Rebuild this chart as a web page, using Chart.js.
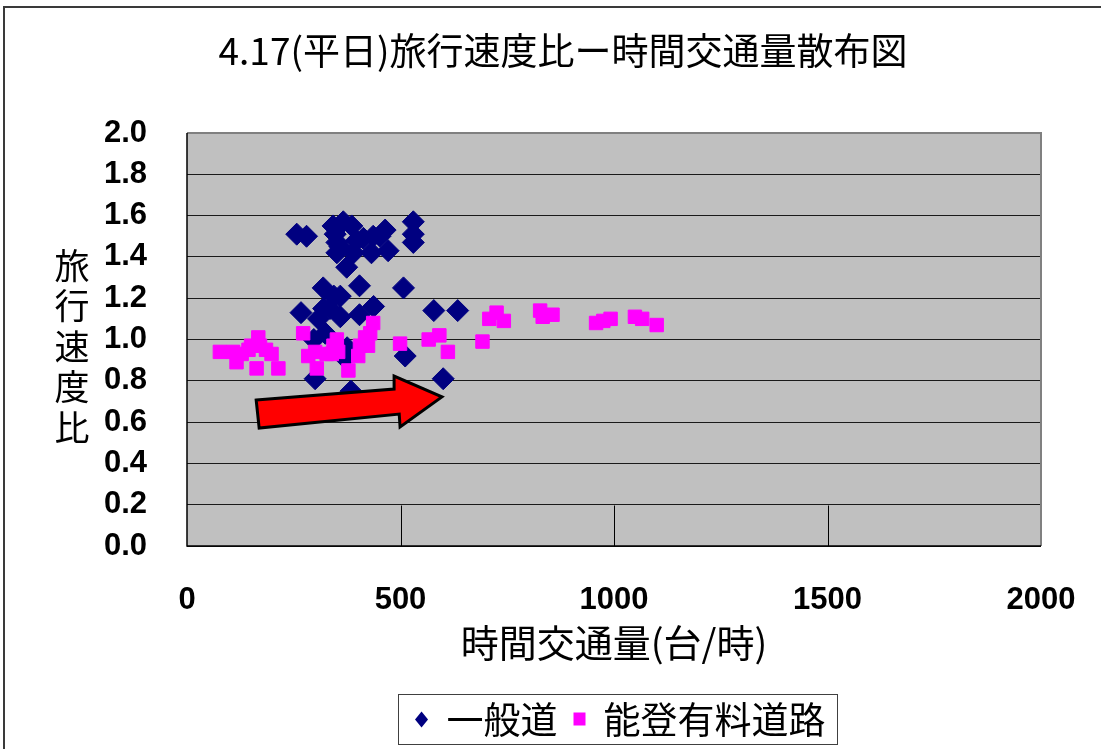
<!DOCTYPE html>
<html>
<head>
<meta charset="utf-8">
<title>旅行速度比－時間交通量散布図</title>
<script src="https://cdn.jsdelivr.net/npm/chart.js@4.4.1/dist/chart.umd.min.js"></script>
<style>
  html, body { margin: 0; padding: 0; background: #ffffff; }
  #wrap { position: relative; width: 1101px; height: 749px; }
  canvas { display: block; }
</style>
</head>
<body>
<div id="wrap"><canvas id="chart" width="1101" height="749"></canvas></div>
<script>
// ---- texts ----
const chartTitle = '4.17(平日)旅行速度比ー時間交通量散布図';
const xAxisTitle = '時間交通量(台/時)';
const yAxisTitle = '旅行速度比';
const seriesNames = ['一般道', '能登有料道路'];

// ---- tick labels ----
const xTicks = [0, 500, 1000, 1500, 2000];
const yTicks = [0.0, 0.2, 0.4, 0.6, 0.8, 1.0, 1.2, 1.4, 1.6, 1.8, 2.0];

// ---- 一般道: hourly volume (台/時) and travel speed ratio ----
const generalVolume = [
  257, 280, 342, 366, 386, 347, 351, 351, 358, 390, 374, 397, 413, 436, 452,
  464, 432, 471, 530, 530, 530, 319, 404, 507, 344, 359, 320, 335, 437, 267,
  308, 359, 404, 578, 634, 324, 297, 375, 370, 511, 300, 384, 600
];
const generalSpeedRatio = [
  1.51, 1.50, 1.55, 1.57, 1.55, 1.51, 1.47, 1.42, 1.45, 1.42, 1.35, 1.48, 1.49, 1.50, 1.50,
  1.53, 1.42, 1.43, 1.57, 1.51, 1.47, 1.25, 1.26, 1.25, 1.21, 1.21, 1.15, 1.15, 1.16, 1.13,
  1.10, 1.11, 1.12, 1.14, 1.14, 1.03, 1.00, 0.96, 0.91, 0.92, 0.81, 0.75, 0.81
];

// ---- 能登有料道路: hourly volume (台/時) and travel speed ratio ----
const tollVolume = [
  77, 108, 116, 128, 144, 150, 167, 171, 185, 198, 163, 214, 272, 284, 300,
  304, 327, 339, 343, 351, 354, 378, 401, 405, 417, 424, 429, 436, 499, 566,
  591, 611, 692, 708, 725, 742, 827, 833, 856, 958, 975, 992, 1049, 1066, 1100
];
const tollSpeedRatio = [
  0.94, 0.94, 0.89, 0.93, 0.95, 0.97, 1.01, 0.97, 0.95, 0.93, 0.86, 0.86, 1.03, 0.92, 0.94,
  0.86, 0.93, 0.93, 0.97, 1.00, 0.94, 0.85, 0.92, 0.97, 1.01, 0.97, 1.03, 1.08, 0.98, 1.00,
  1.02, 0.94, 0.99, 1.10, 1.13, 1.09, 1.14, 1.11, 1.12, 1.08, 1.09, 1.10, 1.11, 1.10, 1.07
];

const toPoints = (xs, ys) => xs.map((x, i) => ({ x: x, y: ys[i] }));

const NUM_FONT = '"Liberation Sans", Arial, sans-serif';
const JP_FONT = '"Noto Sans CJK JP", "Noto Sans CJK SC", sans-serif';
const NAVY = '#000080';
const MAGENTA = '#FF00FF';

// Block arrow annotation, in data units (volume, speed ratio)
const arrowShape = [
  [162, 0.707], [485, 0.760], [485, 0.823], [597, 0.722],
  [499, 0.576], [497, 0.639], [169, 0.571]
];

const decorations = {
  id: 'decorations',
  beforeDraw(chart) {
    const { ctx, chartArea: a } = chart;
    ctx.save();
    ctx.fillStyle = '#ffffff';
    ctx.fillRect(0, 0, chart.width, chart.height);
    // outer frame (top and left edges)
    ctx.strokeStyle = '#3a3a3a';
    ctx.lineWidth = 2;
    ctx.beginPath();
    ctx.moveTo(4, chart.height);
    ctx.lineTo(4, 7);
    ctx.lineTo(chart.width, 7);
    ctx.stroke();
    // plot area fill
    ctx.fillStyle = '#C0C0C0';
    ctx.fillRect(a.left, a.top, a.right - a.left, a.bottom - a.top);
    // chart title
    ctx.fillStyle = '#000000';
    ctx.font = '37px ' + JP_FONT;
    ctx.textAlign = 'center';
    ctx.textBaseline = 'middle';
    ctx.fillText(chartTitle, (a.left + a.right) / 2 - 51, 51);
    ctx.restore();
  },
  beforeDatasetsDraw(chart) {
    const { ctx, chartArea: a, scales: { x, y } } = chart;
    ctx.save();
    // x-axis tick marks reaching up one grid band
    ctx.strokeStyle = '#000000';
    ctx.lineWidth = 1;
    const yTop = Math.round(y.getPixelForValue(yTicks[1])) + 0.5;
    xTicks.forEach(v => {
      if (v <= x.min || v >= x.max) return;
      const px = Math.round(x.getPixelForValue(v)) + 0.5;
      ctx.beginPath();
      ctx.moveTo(px, a.bottom);
      ctx.lineTo(px, yTop);
      ctx.stroke();
    });
    // plot area border: grey top/right, black axes left/bottom
    ctx.strokeStyle = '#808080';
    ctx.lineWidth = 2;
    ctx.beginPath();
    ctx.moveTo(a.left, a.top);
    ctx.lineTo(a.right, a.top);
    ctx.lineTo(a.right, a.bottom);
    ctx.stroke();
    ctx.strokeStyle = '#000000';
    ctx.lineWidth = 1.5;
    ctx.beginPath();
    ctx.moveTo(a.left, a.top);
    ctx.lineTo(a.left, a.bottom);
    ctx.lineTo(a.right, a.bottom);
    ctx.stroke();
    ctx.restore();
  },
  afterDatasetsDraw(chart) {
    const { ctx, scales: { x, y } } = chart;
    ctx.save();
    ctx.beginPath();
    arrowShape.forEach(([vx, vy], i) => {
      const px = x.getPixelForValue(vx);
      const py = y.getPixelForValue(vy);
      if (i === 0) ctx.moveTo(px, py); else ctx.lineTo(px, py);
    });
    ctx.closePath();
    ctx.fillStyle = '#FF0000';
    ctx.fill();
    ctx.lineJoin = 'miter';
    ctx.lineWidth = 3;
    ctx.strokeStyle = '#000000';
    ctx.stroke();
    ctx.restore();
  },
  afterDraw(chart) {
    const { ctx, chartArea: a } = chart;
    ctx.save();
    // vertical y-axis title, one character per line
    ctx.fillStyle = '#000000';
    ctx.font = '35px ' + JP_FONT;
    ctx.textAlign = 'center';
    ctx.textBaseline = 'middle';
    const chars = Array.from(yAxisTitle);
    const step = 40.5;
    const midY = (a.top + a.bottom) / 2 + 7;
    chars.forEach((ch, i) => {
      ctx.fillText(ch, a.left - 115, midY + (i - (chars.length - 1) / 2) * step);
    });

    // legend box
    const ds = chart.data.datasets;
    ctx.font = '37px ' + JP_FONT;
    ctx.textAlign = 'left';
    const w1 = ctx.measureText(ds[0].label).width;
    const w2 = ctx.measureText(ds[1].label).width;
    const boxW = 48 + w1 + 22 + 24 + w2 + 12;
    const boxH = 50;
    const left = Math.round((a.left + a.right) / 2 + 3.5 - boxW / 2) + 0.5;
    const top = 694.5;
    const cy = top + boxH / 2;
    ctx.fillStyle = '#ffffff';
    ctx.fillRect(left, top, boxW, boxH);
    ctx.strokeStyle = '#404040';
    ctx.lineWidth = 1;
    ctx.strokeRect(left, top, boxW, boxH);
    // diamond marker
    const dx = left + 23;
    ctx.fillStyle = ds[0].backgroundColor;
    ctx.beginPath();
    ctx.moveTo(dx, cy - 8);
    ctx.lineTo(dx + 6.5, cy);
    ctx.lineTo(dx, cy + 8);
    ctx.lineTo(dx - 6.5, cy);
    ctx.closePath();
    ctx.fill();
    ctx.fillStyle = '#000000';
    ctx.textBaseline = 'middle';
    ctx.fillText(ds[0].label, left + 48, cy);
    // square marker
    const sx = left + 48 + w1 + 22;
    ctx.fillStyle = ds[1].backgroundColor;
    ctx.fillRect(sx - 6, cy - 7, 12, 13);
    ctx.fillStyle = '#000000';
    ctx.fillText(ds[1].label, sx + 24, cy);
    ctx.restore();
  }
};

new Chart(document.getElementById('chart'), {
  type: 'scatter',
  data: {
    datasets: [
      {
        label: seriesNames[0],
        data: toPoints(generalVolume, generalSpeedRatio),
        pointStyle: 'rectRot',
        pointRadius: 11,
        backgroundColor: NAVY,
        borderColor: NAVY,
        borderWidth: 1,
        order: 2
      },
      {
        label: seriesNames[1],
        data: toPoints(tollVolume, tollSpeedRatio),
        pointStyle: 'rect',
        pointRadius: 9.5,
        backgroundColor: MAGENTA,
        borderColor: MAGENTA,
        borderWidth: 1,
        order: 1
      }
    ]
  },
  options: {
    responsive: false,
    animation: false,
    devicePixelRatio: 1,
    layout: { padding: { left: 0, right: 60, top: 133, bottom: 0 } },
    plugins: {
      legend: { display: false },
      tooltip: { enabled: false },
      title: { display: false }
    },
    scales: {
      x: {
        type: 'linear',
        min: 0,
        max: 2000,
        afterBuildTicks: s => { s.ticks = xTicks.map(v => ({ value: v })); },
        afterFit: s => {
          s.height = 203;
          s.paddingLeft = 0;
          s.paddingRight = 0;
        },
        grid: { display: false, drawTicks: false },
        border: { display: false },
        ticks: {
          padding: 36,
          color: '#000000',
          font: { family: NUM_FONT, size: 31, weight: 'bold' },
          maxRotation: 0,
          callback: v => String(v)
        },
        title: {
          display: true,
          text: xAxisTitle,
          color: '#000000',
          font: { family: JP_FONT, size: 38, weight: 'normal', lineHeight: 1.2 },
          padding: { top: 0, bottom: 84 }
        }
      },
      y: {
        type: 'linear',
        min: 0,
        max: 2,
        afterBuildTicks: s => { s.ticks = yTicks.map(v => ({ value: v })); },
        afterFit: s => {
          s.width = 187;
          s.paddingTop = 0;
          s.paddingBottom = 0;
        },
        grid: { color: '#1a1a1a', lineWidth: 1, drawTicks: false },
        border: { display: false },
        ticks: {
          padding: 40,
          color: '#000000',
          font: { family: NUM_FONT, size: 31, weight: 'bold' },
          callback: v => Number(v).toFixed(1)
        }
      }
    }
  },
  plugins: [decorations]
});
</script>
</body>
</html>
